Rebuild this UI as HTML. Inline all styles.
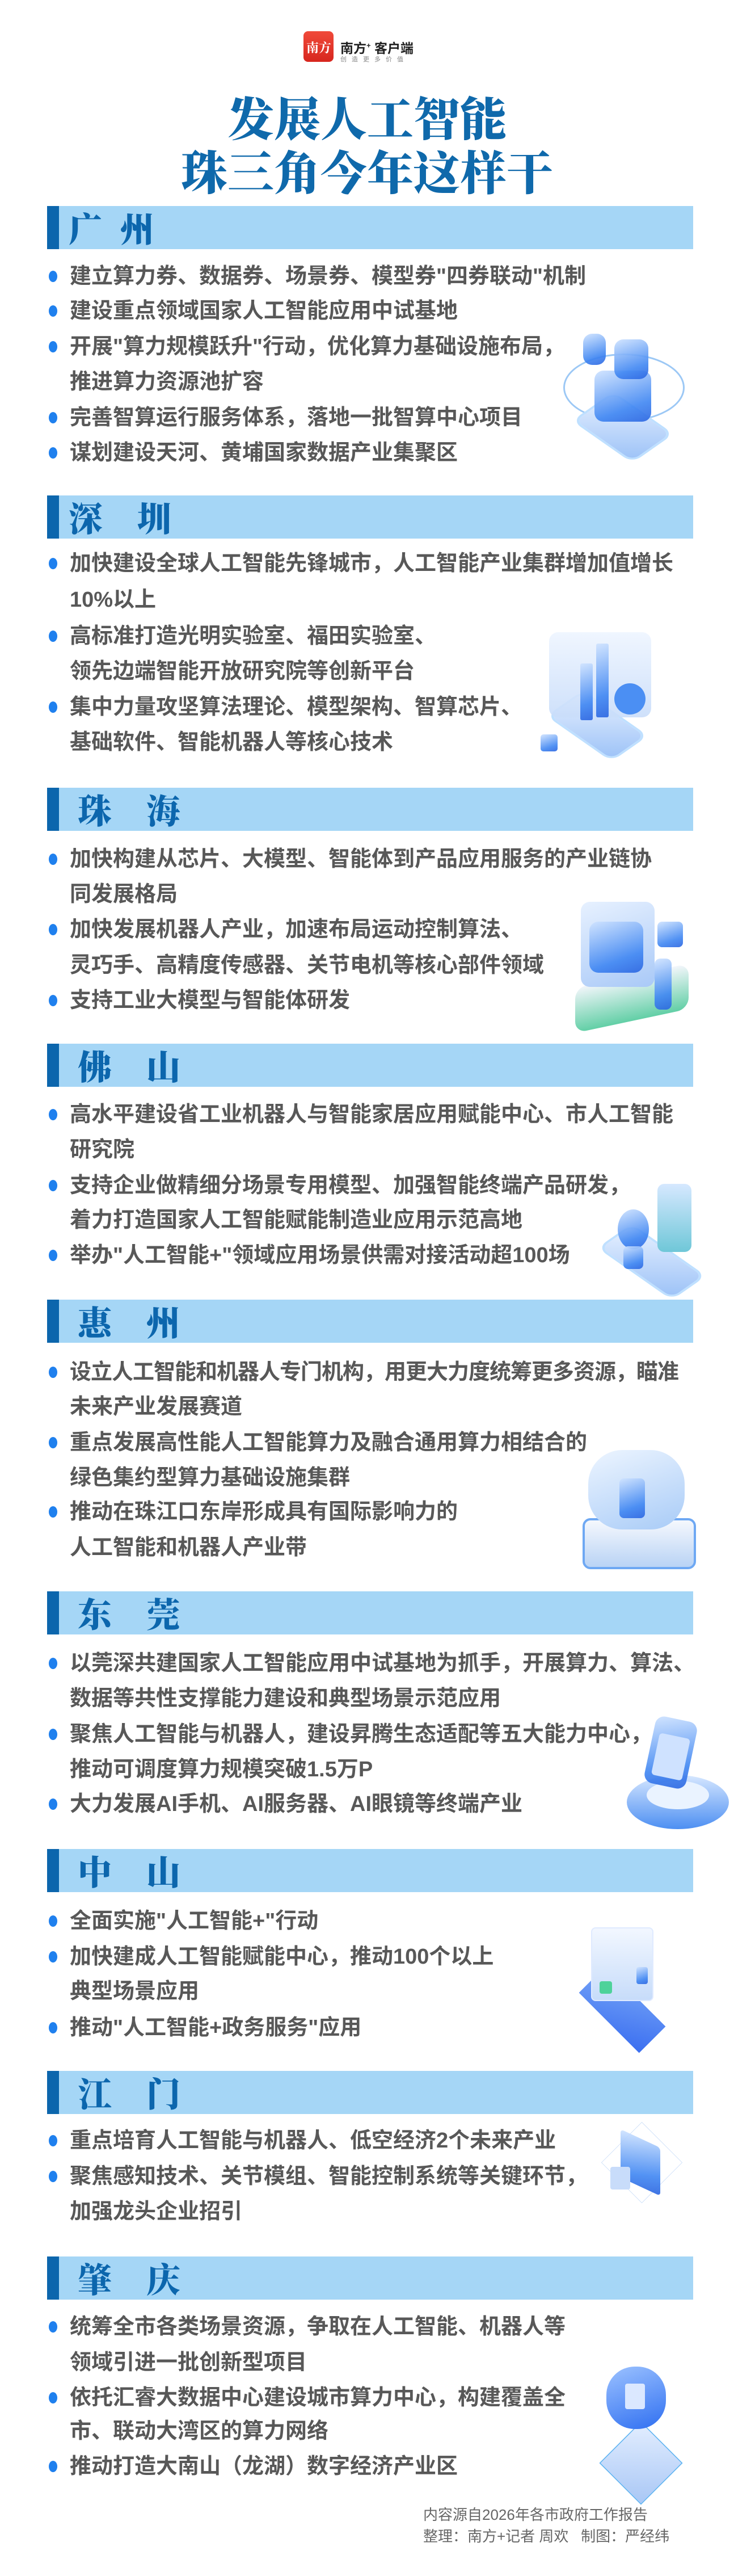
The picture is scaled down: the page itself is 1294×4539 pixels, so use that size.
<!DOCTYPE html>
<html><head><meta charset="utf-8">
<style>
*{margin:0;padding:0;box-sizing:border-box}
html,body{width:1294px;height:4539px;background:#fff;overflow:hidden}
body{position:relative;font-family:"Liberation Sans","Noto Sans CJK SC",sans-serif}
.t{position:absolute;white-space:nowrap;font-size:38px;line-height:38px;font-weight:700;color:#585858;left:123px}
.d{position:absolute;left:86px;width:15px;height:20px;border-radius:50%;background:#1f80ee}
.bar{position:absolute;left:83px;width:1139px;height:76px;background:#a5d6f6}
.bar:before{content:"";position:absolute;left:0;top:0;width:21px;height:100%;background:#0c66ad}
.h{position:absolute;font-family:"Noto Serif CJK SC","Noto Sans CJK SC",serif;font-weight:900;font-size:60px;line-height:60px;color:#0c66ad;top:8px}
.title{position:absolute;left:0;width:1294px;text-align:center;font-family:"Noto Serif CJK SC","Noto Sans CJK SC",serif;font-weight:900;font-size:82px;line-height:82px;color:#0f69ab}
.ill{position:absolute}
.plat{position:absolute;background:linear-gradient(135deg,#e8f1ff,#9cc2f7);transform:rotate(45deg) skew(-10deg,-10deg);border-radius:14px;box-shadow:0 0 0 4px #bfe0ff}
.core{position:absolute;border-radius:16px;background:linear-gradient(160deg,#cfe3ff,#3f86f2 70%,#2a64e0);opacity:.9}
.foot{position:absolute;left:746px;font-size:26px;line-height:28px;color:#666;white-space:nowrap}
</style></head><body>

<!-- logo -->
<div style="position:absolute;left:535px;top:55px;width:53px;height:54px;border-radius:8px;background:linear-gradient(180deg,#f04a3a,#d7261e)"></div>
<div style="position:absolute;left:540px;top:68px;color:#fff;font-size:22px;font-weight:700;font-family:'Noto Serif CJK SC',serif">南方</div>
<div style="position:absolute;left:600px;top:66px;font-size:23px;font-weight:700;color:#222;white-space:nowrap">南方<sup style="font-size:13px">+</sup> 客户端</div>
<div style="position:absolute;left:600px;top:96px;font-size:11px;color:#888;letter-spacing:9px;white-space:nowrap">创造更多价值</div>

<div class="title" style="top:164px">发展人工智能</div>
<div class="title" style="top:259px">珠三角今年这样干</div>

<!-- 广州 -->
<div class="bar" style="top:363px"><span class="h" style="left:38px">广</span><span class="h" style="left:129px">州</span></div>
<div class="d" style="top:477px"></div><div class="t" style="top:468px">建立算力券、数据券、场景券、模型券"四券联动"机制</div>
<div class="d" style="top:538px"></div><div class="t" style="top:529px">建设重点领域国家人工智能应用中试基地</div>
<div class="d" style="top:601px"></div><div class="t" style="top:592px">开展"算力规模跃升"行动，优化算力基础设施布局，</div>
<div class="t" style="top:654px">推进算力资源池扩容</div>
<div class="d" style="top:726px"></div><div class="t" style="top:717px">完善智算运行服务体系，落地一批智算中心项目</div>
<div class="d" style="top:788px"></div><div class="t" style="top:779px">谋划建设天河、黄埔国家数据产业集聚区</div>
<div class="ill" style="left:983px;top:583px;width:234px;height:232px">
 <div style="position:absolute;left:10px;top:40px;width:214px;height:120px;border:3px solid #9cc8f5;border-radius:50%"></div>
 <div class="plat" style="left:55px;top:130px;width:120px;height:80px"></div>
 <div class="core" style="left:65px;top:70px;width:100px;height:90px"></div>
 <div class="core" style="left:45px;top:5px;width:40px;height:55px"></div>
 <div class="core" style="left:100px;top:15px;width:60px;height:70px"></div>
</div>

<!-- 深圳 -->
<div class="bar" style="top:873px"><span class="h" style="left:38px">深</span><span class="h" style="left:159px">圳</span></div>
<div class="d" style="top:983px"></div><div class="t" style="top:974px">加快建设全球人工智能先锋城市，人工智能产业集群增加值增长</div>
<div class="t" style="top:1038px">10%以上</div>
<div class="d" style="top:1111px"></div><div class="t" style="top:1102px">高标准打造光明实验室、福田实验室、</div>
<div class="t" style="top:1164px">领先边端智能开放研究院等创新平台</div>
<div class="d" style="top:1236px"></div><div class="t" style="top:1227px">集中力量攻坚算法理论、模型架构、智算芯片、</div>
<div class="t" style="top:1289px">基础软件、智能机器人等核心技术</div>
<div class="ill" style="left:933px;top:1094px;width:246px;height:244px">
 <div class="plat" style="left:55px;top:150px;width:130px;height:70px"></div>
 <div style="position:absolute;left:35px;top:20px;width:180px;height:150px;border-radius:16px;background:linear-gradient(180deg,#eef5ff,#c9ddfa);opacity:.9"></div>
 <div class="core" style="left:90px;top:75px;width:22px;height:100px;border-radius:3px"></div>
 <div class="core" style="left:118px;top:40px;width:22px;height:130px;border-radius:3px"></div>
 <div style="position:absolute;left:150px;top:110px;width:55px;height:55px;border-radius:50%;background:#4b8ff3"></div>
 <div class="core" style="left:20px;top:200px;width:30px;height:30px;border-radius:5px"></div>
</div>

<!-- 珠海 -->
<div class="bar" style="top:1388px"><span class="h" style="left:54px">珠</span><span class="h" style="left:175px">海</span></div>
<div class="d" style="top:1504px"></div><div class="t" style="top:1495px">加快构建从芯片、大模型、智能体到产品应用服务的产业链协</div>
<div class="t" style="top:1557px">同发展格局</div>
<div class="d" style="top:1628px"></div><div class="t" style="top:1619px">加快发展机器人产业，加速布局运动控制算法、</div>
<div class="t" style="top:1682px">灵巧手、高精度传感器、关节电机等核心部件领域</div>
<div class="d" style="top:1753px"></div><div class="t" style="top:1744px">支持工业大模型与智能体研发</div>
<div class="ill" style="left:1004px;top:1579px;width:221px;height:231px">
 <div style="position:absolute;left:10px;top:140px;width:200px;height:80px;border-radius:20px;background:linear-gradient(180deg,#f3f6fb,#62cfa6);transform:skewY(-12deg)"></div>
 <div style="position:absolute;left:20px;top:10px;width:130px;height:150px;border-radius:16px;background:linear-gradient(160deg,#e7f1ff,#a9c9f7)"></div>
 <div class="core" style="left:35px;top:45px;width:95px;height:90px"></div>
 <div class="core" style="left:155px;top:45px;width:45px;height:45px;border-radius:8px"></div>
 <div class="core" style="left:150px;top:110px;width:30px;height:90px;border-radius:10px"></div>
</div>

<!-- 佛山 -->
<div class="bar" style="top:1839px"><span class="h" style="left:54px">佛</span><span class="h" style="left:175px">山</span></div>
<div class="d" style="top:1954px"></div><div class="t" style="top:1945px">高水平建设省工业机器人与智能家居应用赋能中心、市人工智能</div>
<div class="t" style="top:2007px">研究院</div>
<div class="d" style="top:2079px"></div><div class="t" style="top:2070px">支持企业做精细分场景专用模型、加强智能终端产品研发，</div>
<div class="t" style="top:2131px">着力打造国家人工智能赋能制造业应用示范高地</div>
<div class="d" style="top:2202px"></div><div class="t" style="top:2193px">举办"人工智能+"领域应用场景供需对接活动超100场</div>
<div class="ill" style="left:1054px;top:2086px;width:196px;height:189px">
 <div class="plat" style="left:20px;top:105px;width:150px;height:65px"></div>
 <div style="position:absolute;left:105px;top:0;width:60px;height:120px;border-radius:12px;background:linear-gradient(180deg,#d6e8ff,#6fc7d8)"></div>
 <div class="core" style="left:35px;top:45px;width:55px;height:70px;border-radius:50%"></div>
 <div class="core" style="left:45px;top:110px;width:35px;height:40px;border-radius:8px"></div>
</div>

<!-- 惠州 -->
<div class="bar" style="top:2290px"><span class="h" style="left:54px">惠</span><span class="h" style="left:175px">州</span></div>
<div class="d" style="top:2408px"></div><div class="t" style="top:2399px;letter-spacing:-1px">设立人工智能和机器人专门机构，用更大力度统筹更多资源，瞄准</div>
<div class="t" style="top:2460px">未来产业发展赛道</div>
<div class="d" style="top:2532px"></div><div class="t" style="top:2523px">重点发展高性能人工智能算力及融合通用算力相结合的</div>
<div class="t" style="top:2585px">绿色集约型算力基础设施集群</div>
<div class="d" style="top:2654px"></div><div class="t" style="top:2645px">推动在珠江口东岸形成具有国际影响力的</div>
<div class="t" style="top:2708px">人工智能和机器人产业带</div>
<div class="ill" style="left:1017px;top:2545px;width:212px;height:223px">
 <div style="position:absolute;left:10px;top:130px;width:200px;height:90px;border-radius:14px;background:linear-gradient(180deg,#f5f8fd,#b9d3f5);border:4px solid #6ea8f3"></div>
 <div style="position:absolute;left:20px;top:10px;width:170px;height:140px;border-radius:60px;background:linear-gradient(160deg,#edf5ff,#a8cbf7)"></div>
 <div class="core" style="left:75px;top:60px;width:45px;height:70px;border-radius:8px"></div>
</div>

<!-- 东莞 -->
<div class="bar" style="top:2804px"><span class="h" style="left:54px">东</span><span class="h" style="left:175px">莞</span></div>
<div class="d" style="top:2921px"></div><div class="t" style="top:2912px">以莞深共建国家人工智能应用中试基地为抓手，开展算力、算法、</div>
<div class="t" style="top:2974px">数据等共性支撑能力建设和典型场景示范应用</div>
<div class="d" style="top:3046px"></div><div class="t" style="top:3037px">聚焦人工智能与机器人，建设昇腾生态适配等五大能力中心，</div>
<div class="t" style="top:3099px">推动可调度算力规模突破1.5万P</div>
<div class="d" style="top:3169px"></div><div class="t" style="top:3160px">大力发展AI手机、AI服务器、AI眼镜等终端产业</div>
<div class="ill" style="left:1100px;top:3023px;width:187px;height:204px">
 <div style="position:absolute;left:5px;top:105px;width:180px;height:95px;border-radius:50%;background:linear-gradient(180deg,#d6e7ff,#4d8ff2);"></div>
 <div style="position:absolute;left:40px;top:115px;width:110px;height:50px;border-radius:50%;background:#eaf3ff"></div>
 <div class="core" style="left:45px;top:5px;width:75px;height:120px;transform:rotate(12deg)"></div>
 <div style="position:absolute;left:55px;top:35px;width:55px;height:75px;border-radius:6px;background:#cfe2ff;transform:rotate(12deg)"></div>
</div>

<!-- 中山 -->
<div class="bar" style="top:3258px"><span class="h" style="left:54px">中</span><span class="h" style="left:175px">山</span></div>
<div class="d" style="top:3375px"></div><div class="t" style="top:3366px">全面实施"人工智能+"行动</div>
<div class="d" style="top:3438px"></div><div class="t" style="top:3429px">加快建成人工智能赋能中心，推动100个以上</div>
<div class="t" style="top:3490px">典型场景应用</div>
<div class="d" style="top:3563px"></div><div class="t" style="top:3554px">推动"人工智能+政务服务"应用</div>
<div class="ill" style="left:992px;top:3376px;width:212px;height:231px">
 <div style="position:absolute;left:30px;top:110px;width:150px;height:110px;background:linear-gradient(135deg,#7aa8f8,#3b6ff0);transform:rotate(45deg) scaleY(.6)"></div>
 <div style="position:absolute;left:50px;top:20px;width:110px;height:130px;border-radius:8px;background:linear-gradient(180deg,#f2f7ff,#c7dcfa);border:2px solid #dfeaff"></div>
 <div class="core" style="left:65px;top:115px;width:22px;height:22px;border-radius:4px;background:#3fd08f"></div>
 <div class="core" style="left:130px;top:90px;width:20px;height:30px;border-radius:4px"></div>
</div>

<!-- 江门 -->
<div class="bar" style="top:3649px"><span class="h" style="left:54px">江</span><span class="h" style="left:175px">门</span></div>
<div class="d" style="top:3762px"></div><div class="t" style="top:3753px">重点培育人工智能与机器人、低空经济2个未来产业</div>
<div class="d" style="top:3825px"></div><div class="t" style="top:3816px">聚焦感知技术、关节模组、智能控制系统等关键环节，</div>
<div class="t" style="top:3878px">加强龙头企业招引</div>
<div class="ill" style="left:1054px;top:3723px;width:154px;height:174px">
 <div style="position:absolute;left:10px;top:20px;width:135px;height:135px;border:1px solid #c7dbf7;transform:rotate(45deg) scale(.75)"></div>
 <div class="core" style="left:40px;top:45px;width:70px;height:85px;border-radius:6px;transform:skewY(25deg)"></div>
 <div style="position:absolute;left:22px;top:95px;width:35px;height:40px;border-radius:4px;background:#c8dcfa"></div>
</div>

<!-- 肇庆 -->
<div class="bar" style="top:3976px"><span class="h" style="left:54px">肇</span><span class="h" style="left:175px">庆</span></div>
<div class="d" style="top:4090px"></div><div class="t" style="top:4081px">统筹全市各类场景资源，争取在人工智能、机器人等</div>
<div class="t" style="top:4144px">领域引进一批创新型项目</div>
<div class="d" style="top:4215px"></div><div class="t" style="top:4206px">依托汇睿大数据中心建设城市算力中心，构建覆盖全</div>
<div class="t" style="top:4265px">市、联动大湾区的算力网络</div>
<div class="d" style="top:4336px"></div><div class="t" style="top:4327px">推动打造大南山（龙湖）数字经济产业区</div>
<div class="ill" style="left:1017px;top:4130px;width:229px;height:245px">
 <div style="position:absolute;left:48px;top:145px;width:130px;height:130px;border:2px solid #5fb4f2;transform:rotate(45deg) scale(.8,.8);background:linear-gradient(135deg,#e3eeff,#a9c7f5)"></div>
 <div style="position:absolute;left:52px;top:40px;width:105px;height:110px;border-radius:50px;background:linear-gradient(160deg,#9cc2ff,#2f6ff1)"></div>
 <div style="position:absolute;left:85px;top:70px;width:35px;height:45px;border-radius:4px;background:#dbe8ff"></div>
</div>

<div class="foot" style="top:4417px">内容源自2026年各市政府工作报告</div>
<div class="foot" style="top:4455px">整理：南方+记者 周欢&nbsp;&nbsp;&nbsp;制图：严经纬</div>
</body></html>
